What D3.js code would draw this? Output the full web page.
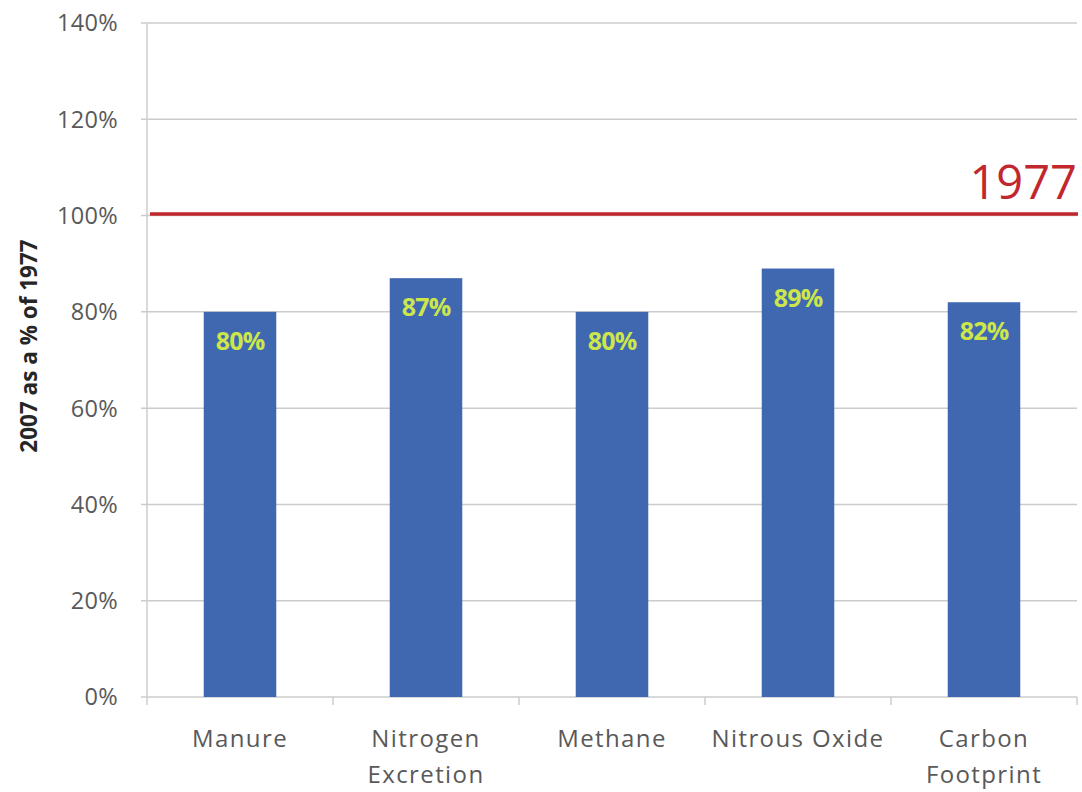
<!DOCTYPE html>
<html>
<head>
<meta charset="utf-8">
<script src="https://cdn.jsdelivr.net/npm/d3@7"></script>
<style>
  html, body { margin: 0; padding: 0; background: #ffffff; }
  svg { display: block; }
</style>
</head>
<body>
<svg id="chart" width="1082" height="792"></svg>
<script>
// Category names (split into display lines) and 2007 values as % of 1977
const categories = ["Manure", "Nitrogen Excretion", "Methane", "Nitrous Oxide", "Carbon Footprint"];
const categoryLines = [["Manure"], ["Nitrogen", "Excretion"], ["Methane"], ["Nitrous Oxide"], ["Carbon", "Footprint"]];
const values = [80, 87, 80, 89, 82];
const yTicks = [0, 20, 40, 60, 80, 100, 120, 140];
const baselineValue = 100;
const baselineLabel = "1977";
const yAxisTitle = "2007 as a % of 1977";

const svg = d3.select("#chart");
const plotLeft = 147, plotRight = 1077, plotTop = 23, plotBottom = 697;

const x = d3.scaleBand().domain(categories).range([plotLeft, plotRight]).paddingInner(0).paddingOuter(0);
const y = d3.scaleLinear().domain([0, 140]).range([plotBottom, plotTop]);

const font = "'Open Sans', 'Liberation Sans', sans-serif";
const gray = "#595959";

// Horizontal gridlines
svg.append("g")
  .selectAll("line")
  .data(yTicks)
  .join("line")
  .attr("x1", plotLeft - 6)
  .attr("x2", plotRight)
  .attr("y1", d => y(d))
  .attr("y2", d => y(d))
  .attr("stroke", "#cccccc")
  .attr("stroke-width", 1.5);

// Y axis line
svg.append("line")
  .attr("x1", plotLeft).attr("x2", plotLeft)
  .attr("y1", y(140)).attr("y2", plotBottom)
  .attr("stroke", "#cccccc").attr("stroke-width", 1.5);

// Y tick labels
svg.append("g")
  .selectAll("text")
  .data(yTicks)
  .join("text")
  .attr("x", plotLeft - 29)
  .attr("y", d => y(d))
  .attr("dy", "0.36em")
  .attr("text-anchor", "end")
  .attr("font-family", font)
  .attr("font-size", 23.5)
  .attr("fill", gray)
  .attr("letter-spacing", 0.3)
  .text(d => d + "%");

// X axis category ticks
const xTickPos = categories.map(c => x(c)).concat([plotRight]);
svg.append("g")
  .selectAll("line")
  .data(xTickPos)
  .join("line")
  .attr("x1", d => d).attr("x2", d => d)
  .attr("y1", plotBottom).attr("y2", plotBottom + 8)
  .attr("stroke", "#cccccc").attr("stroke-width", 1.5);

// Bars
const barFrac = 0.39;
const bw = x.bandwidth() * barFrac;
svg.append("g")
  .selectAll("rect")
  .data(values)
  .join("rect")
  .attr("x", (d, i) => x(categories[i]) + (x.bandwidth() - bw) / 2)
  .attr("y", d => y(d))
  .attr("width", bw)
  .attr("height", d => plotBottom - y(d))
  .attr("fill", "#4068b1");

// Value labels inside top of each bar
svg.append("g")
  .selectAll("text")
  .data(values)
  .join("text")
  .attr("x", (d, i) => x(categories[i]) + x.bandwidth() / 2)
  .attr("y", d => y(d) + 38)
  .attr("text-anchor", "middle")
  .attr("font-family", font)
  .attr("font-weight", "bold")
  .attr("font-size", 25)
  .attr("letter-spacing", -0.8)
  .attr("fill", "#cde64a")
  .text(d => d + "%");

// 1977 reference line
svg.append("line")
  .attr("x1", plotLeft + 3).attr("x2", plotRight + 1)
  .attr("y1", y(baselineValue) - 1.5).attr("y2", y(baselineValue) - 1.5)
  .attr("stroke", "#c1272d").attr("stroke-width", 3.5);

svg.append("text")
  .attr("x", plotRight)
  .attr("y", y(baselineValue) - 17)
  .attr("text-anchor", "end")
  .attr("font-family", font)
  .attr("font-size", 47)
  .attr("fill", "#c1272d")
  .text(baselineLabel);

// Category labels
const catG = svg.append("g");
categoryLines.forEach((lines, i) => {
  const t = catG.append("text")
    .attr("x", x(categories[i]) + x.bandwidth() / 2)
    .attr("y", 747)
    .attr("text-anchor", "middle")
    .attr("font-family", font)
    .attr("font-size", 24)
    .attr("letter-spacing", 1.4)
    .attr("fill", gray);
  lines.forEach((ln, j) => {
    t.append("tspan")
      .attr("x", x(categories[i]) + x.bandwidth() / 2)
      .attr("dy", j === 0 ? 0 : 36)
      .text(ln);
  });
});

// Y axis title
svg.append("text")
  .attr("transform", `translate(37, ${346}) rotate(-90)`)
  .attr("text-anchor", "middle")
  .attr("font-family", font)
  .attr("font-weight", "bold")
  .attr("font-size", 22.5)
  .attr("fill", "#262626")
  .text(yAxisTitle);
</script>
</body>
</html>
